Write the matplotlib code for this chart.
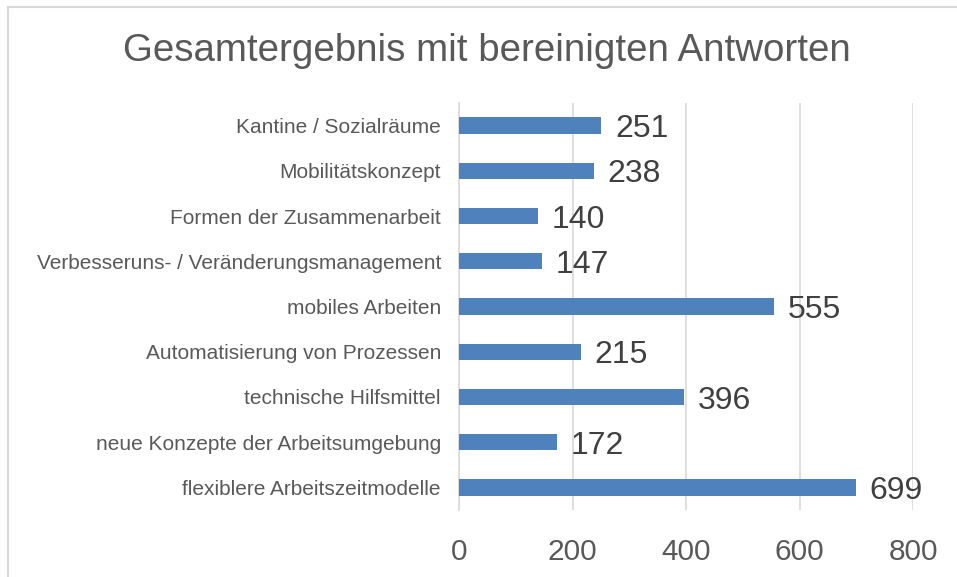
import numpy as np
from matplotlib import pyplot as plt
from matplotlib.patches import Rectangle

categories = ["flexiblere Arbeitszeitmodelle", "neue Konzepte der Arbeitsumgebung",
              "technische Hilfsmittel", "Automatisierung von Prozessen", "mobiles Arbeiten",
              "Verbesseruns- / Veränderungsmanagement", "Formen der Zusammenarbeit",
              "Mobilitätskonzept", "Kantine / Sozialräume"]
values = [699, 172, 396, 215, 555, 147, 140, 238, 251]
xticks = [0, 200, 400, 600, 800]

plt.rcParams["font.family"] = ["Liberation Sans", "DejaVu Sans"]

fig = plt.figure(figsize=(9.57, 5.77), dpi=100)
ax = fig.add_axes([459/957, 1 - 510/577, (913 - 459)/957, (510 - 103)/577])

# outer chart frame (only left/top visible in the reference)
fig.patches.append(Rectangle((8/957, -0.1), 1.2, 1 - 7/577 + 0.1, transform=fig.transFigure,
                             fill=False, edgecolor="#d9d9d9", linewidth=1.5))

y = np.arange(len(categories))
ax.barh(y, values, height=0.36, color="#4f81bd", zorder=3)

for yi, v in zip(y, values):
    ax.text(v + 24, yi - 0.08, str(v), va="center", ha="left", fontsize=23, color="#404040")

ax.set_xlim(0, 800)
ax.set_ylim(-0.5, len(categories) - 0.5)
ax.set_xticks(xticks)
ax.set_xticklabels([str(t) for t in xticks], fontsize=21.5, color="#595959")
ax.set_yticks(y)
ax.set_yticklabels(categories, fontsize=15, color="#595959")
ax.tick_params(length=0, axis="x", pad=20)
ax.tick_params(length=0, axis="y", pad=13)
ax.grid(axis="x", color="#d9d9d9", linewidth=1.2, zorder=0)
for s in ["top", "right", "bottom"]:
    ax.spines[s].set_visible(False)
ax.spines["left"].set_color("#d9d9d9")
ax.spines["left"].set_linewidth(1.2)

fig.text(487/957, 1 - 51/577, "Gesamtergebnis mit bereinigten Antworten", ha="center", va="center",
         fontsize=27.7, color="#595959")

plt.savefig("out.png", dpi=100)
